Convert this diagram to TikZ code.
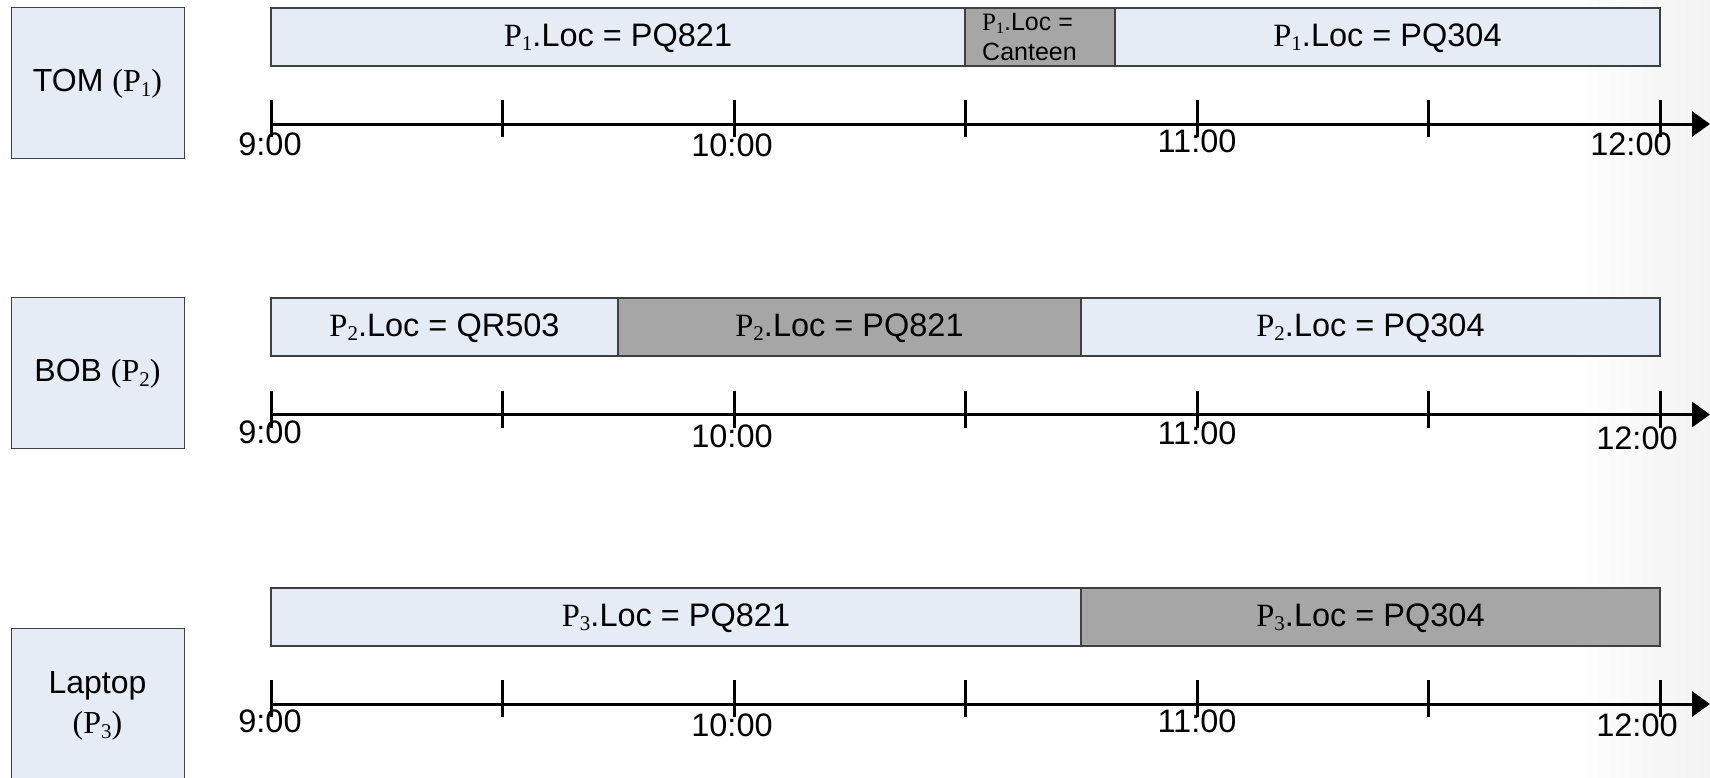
\documentclass[tikz,border=0pt]{standalone}
\usepackage{fontspec}
\setmainfont{Liberation Sans}
\newfontfamily\serf{Liberation Serif}
\usetikzlibrary{arrows.meta}
\definecolor{lightfill}{HTML}{E6ECF6}
\definecolor{darkfill}{HTML}{A6A6A6}
\definecolor{edgegray}{HTML}{404040}
\newcommand\Pn[2][21]{{\serf P\raisebox{-0.3ex}{\fontsize{#1}{#1}\selectfont #2}}}
\begin{document}
\begin{tikzpicture}[x=1pt,y=-1pt,
  seg/.style={draw=edgegray, line width=1.2pt, inner sep=0pt, outer sep=0pt, anchor=north west, minimum height=58pt, text height=23pt, text depth=4pt, font=\fontsize{32.5}{38}\selectfont},
  lseg/.style={seg, fill=lightfill},
  dseg/.style={seg, fill=darkfill},
  pbox/.style={draw=edgegray, line width=1pt, fill=lightfill, inner sep=0pt, outer sep=0pt, anchor=north west, minimum width=173pt, minimum height=151pt},
  boxtxt/.style={inner sep=0pt, align=center, font=\fontsize{32}{40}\selectfont},
  axisline/.style={line width=3pt, -{Triangle[length=18pt,width=25pt]}},
  tickline/.style={line width=3pt},
  ticklbl/.style={anchor=base, inner sep=0pt, font=\fontsize{32.5}{38}\selectfont},
  smalltxt/.style={anchor=west, inner sep=0pt, align=left, font=\fontsize{25}{30}\selectfont}
]
\useasboundingbox (0,0) rectangle (1710,777);
\fill[white] (0,0) rectangle (1710,777);
\shade[left color=white, right color=black!5] (1570,0) rectangle (1710,777);

% left boxes
\node[pbox] (tom) at (11,7) {};
\node[boxtxt] (tomtxt) at (97.5,84) {TOM {\serf(}\Pn{1}{\serf)}};
\node[pbox] (bob) at (11,297) {};
\node[boxtxt] (bobtxt) at (97.5,374) {BOB {\serf(}\Pn{2}{\serf)}};
\node[pbox] (lap) at (11,628) {};
\node[boxtxt] (laptxt) at (97.5,706) {Laptop\\{\serf(}\Pn{3}{\serf)}};

% row 1 bars
\node[lseg, minimum width=694pt] (t1) at (271,8) {\Pn{1}.Loc = PQ821};
\node[dseg, minimum width=150pt] (t2) at (965,8) {};
\node[smalltxt] (t2txt) at (982,37) {\Pn[16]{1}.Loc =\\Canteen};
\node[lseg, minimum width=545pt] (t3) at (1115,8) {\Pn{1}.Loc = PQ304};

% row 2 bars
\node[lseg, minimum width=347pt] (b1) at (271,298) {\Pn{2}.Loc = QR503};
\node[dseg, minimum width=463pt] (b2) at (618,298) {\Pn{2}.Loc = PQ821};
\node[lseg, minimum width=579pt] (b3) at (1081,298) {\Pn{2}.Loc = PQ304};

% row 3 bars
\node[lseg, minimum width=810pt] (l1) at (271,588) {\Pn{3}.Loc = PQ821};
\node[dseg, minimum width=579pt] (l2) at (1081,588) {\Pn{3}.Loc = PQ304};

% axes
\foreach \r/\Y/\oa/\ob/\oc/\od/\xd in {1/124/31/32/28/31/1631, 2/414.5/29/33/30/35/1637, 3/704/28/32/28/32/1637} {
  \coordinate (ax\r s) at (271,\Y);
  \coordinate (ax\r e) at (1710,\Y);
  \draw[axisline] (ax\r s) -- (ax\r e);
  \foreach \i in {0,...,6} {
    \coordinate (tk\r\i) at (271+231.5*\i,\Y-24);
    \draw[tickline] (tk\r\i) -- ++(0,37);
  }
  \node[ticklbl] (l\r a) at (270,\Y+\oa) {9:00};
  \node[ticklbl] (l\r b) at (732,\Y+\ob) {10:00};
  \node[ticklbl] (l\r c) at (1197,\Y+\oc) {11:00};
  \node[ticklbl] (l\r d) at (\xd,\Y+\od) {12:00};
}
\end{tikzpicture}
\end{document}
